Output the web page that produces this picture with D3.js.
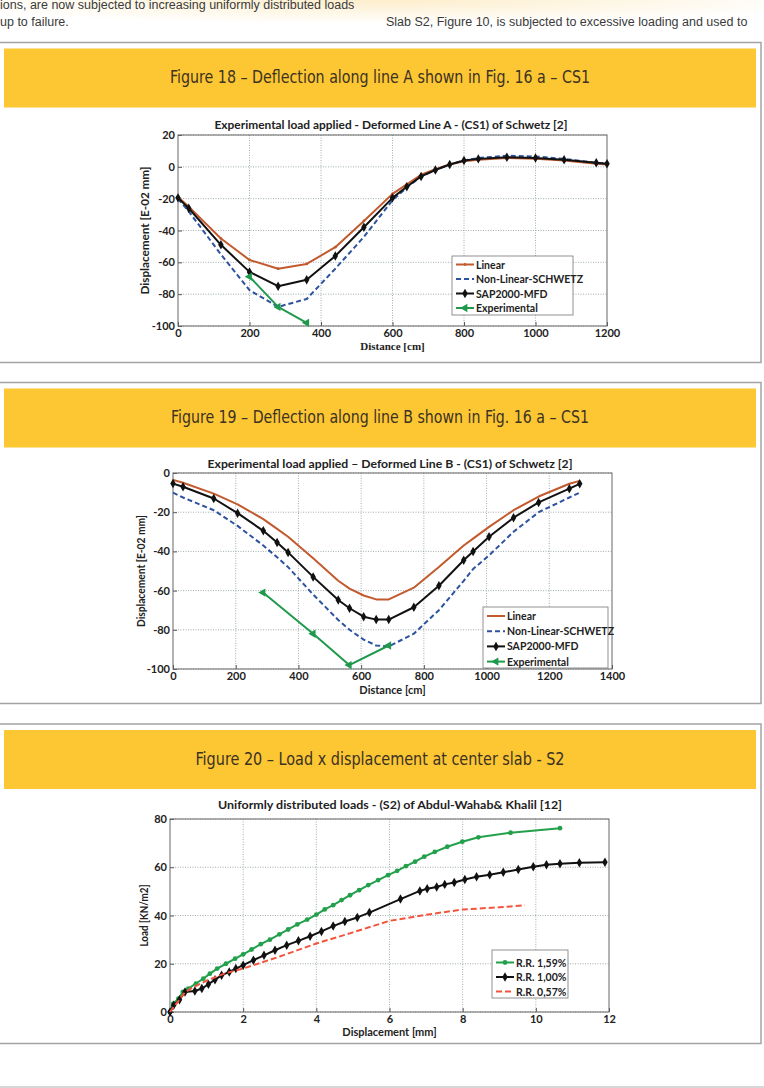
<!DOCTYPE html>
<html>
<head>
<meta charset="utf-8">
<script src="https://cdn.jsdelivr.net/npm/d3@7"></script>
<style>
  body { margin: 0; background: #fff; }
  svg { display: block; }
</style>
</head>
<body>
<div id="page"></div>
<script>
// ---- data: Figure 18 (line A) ----
const lineA_x = [0, 30, 120, 200, 280, 360, 440, 520, 600, 640, 680, 720, 760, 800, 840, 920, 1000, 1080, 1170, 1200];
const lineA_linear = [-19, -25, -45, -58.5, -64, -61, -50.5, -34, -17, -11, -5, -1.5, 1.5, 3.5, 4.5, 5.5, 5, 4, 2, 1.5];
const lineA_nonlinear = [-20, -28, -55, -77.5, -88, -83, -64, -44, -21, -13, -6, -2, 1.5, 4, 5.5, 7, 6.5, 5, 2.5, 2];
const lineA_sap = [-19.5, -26, -49, -66, -75, -71, -56, -38, -19.5, -12.5, -6, -2, 1.5, 4, 5, 6, 5.5, 4.5, 2.5, 2];
const lineA_exp_x = [200, 280, 360];
const lineA_exp = [-69, -88, -98];

// ---- data: Figure 19 (line B) ----
const lineB_x = [0, 32, 130, 206, 288, 332, 367, 447, 527, 563, 608, 648, 688, 768, 848, 927, 957, 1008, 1086, 1166, 1264, 1297];
const lineB_linear = [-3.5, -5, -10.5, -16, -23.5, -28.5, -32.5, -43.5, -55, -59, -62.5, -64.5, -64.5, -58.5, -48, -37, -33.5, -27.5, -19, -12, -5.5, -4];
const lineB_nonlinear = [-10, -12.5, -19, -27, -37, -43, -48, -62, -75, -80, -85, -88, -88.5, -82, -70, -55, -49, -42, -30, -20, -12.5, -10];
const lineB_sap = [-5.4, -7, -13, -20.5, -29.5, -35.5, -40.5, -53, -64.8, -69, -73.3, -74.8, -74.8, -68.5, -57.5, -44.5, -40, -32.5, -22.8, -15, -8, -5.5];
const lineB_exp_x = [287, 447, 562, 688];
const lineB_exp = [-61, -82, -98, -88];

// ---- data: Figure 20 (load x displacement, S2) ----
const rr159_x = [0, 0.09, 0.23, 0.35, 0.5, 0.71, 0.91, 1.09, 1.29, 1.53, 1.78, 2.0, 2.23, 2.48, 2.73, 2.99, 3.23, 3.48, 3.75, 4.0, 4.23, 4.46, 4.69, 4.92, 5.17, 5.42, 5.69, 5.96, 6.21, 6.45, 6.7, 6.95, 7.24, 7.58, 7.99, 8.43, 9.31, 10.66];
const rr159_y = [0, 3.5, 5.5, 8.3, 9.7, 11.8, 13.8, 15.9, 18, 20, 22.1, 23.9, 25.9, 28.1, 30, 32.2, 34.2, 36.3, 38.3, 40.4, 42.5, 44.3, 46.4, 48.4, 50.5, 52.6, 54.7, 56.7, 58.5, 60.5, 62.3, 64.4, 66.4, 68.5, 70.6, 72.4, 74.3, 76.2];
const rr100_x = [0, 0.1, 0.26, 0.41, 0.68, 0.87, 1.05, 1.23, 1.41, 1.62, 1.8, 2.0, 2.28, 2.57, 2.87, 3.19, 3.51, 3.83, 4.14, 4.46, 4.78, 5.12, 5.45, 6.3, 6.83, 7.03, 7.29, 7.51, 7.77, 8.06, 8.38, 8.74, 9.11, 9.52, 9.93, 10.29, 10.66, 11.19, 11.89];
const rr100_y = [0, 2.8, 5.1, 8.3, 8.7, 9.7, 11.5, 13.4, 15.2, 16.6, 18, 19.4, 21.5, 23.5, 25.6, 27.7, 29.5, 31.4, 33.4, 35.6, 37.5, 39.2, 41.2, 46.8, 50.2, 51.1, 51.8, 52.9, 53.7, 54.9, 56.1, 56.9, 57.9, 59.1, 60.2, 61, 61.5, 61.9, 62.1];
const rr057_x = [0, 0.2, 0.4, 0.6, 1, 1.5, 2, 3, 4, 5, 6, 7, 8, 9, 9.7];
const rr057_y = [0, 4, 8, 10, 13, 16, 18, 23, 28.4, 33, 37.8, 40.3, 42.5, 43.4, 44.2];

const xTicksA = [0, 200, 400, 600, 800, 1000, 1200];
const yTicksA = [20, 0, -20, -40, -60, -80, -100];
const xTicksB = [0, 200, 400, 600, 800, 1000, 1200, 1400];
const yTicksB = [0, -20, -40, -60, -80, -100];
const xTicksC = [0, 2, 4, 6, 8, 10, 12];
const yTicksC = [0, 20, 40, 60, 80];

const W = 764, H = 1088;
const chartFont = 'Lato, "Open Sans", sans-serif';

const svg = d3.select('#page').append('svg')
    .attr('width', W)
    .attr('height', H);

// soft cream glow at the top of the page
const defs = svg.append('defs');
const glow = defs.append('radialGradient').attr('id', 'glow')
    .attr('cx', '50%').attr('cy', '0%').attr('r', '60%');
glow.append('stop').attr('offset', '0%').attr('stop-color', '#fdeecb');
glow.append('stop').attr('offset', '100%').attr('stop-color', '#ffffff');
svg.append('rect').attr('x', 0).attr('y', 0).attr('width', W).attr('height', 40).attr('fill', 'url(#glow)');

// running text above the figures (first line is cut by the page top, as in the scan)
const bodyText = svg.append('g')
    .attr('font-family', '"Liberation Sans", Arial, sans-serif')
    .attr('font-size', 12.5)
    .attr('fill', '#3a3a3a');
bodyText.append('text').attr('x', 0).attr('y', 9).text('ions, are now subjected to increasing uniformly distributed loads');
bodyText.append('text').attr('x', 0).attr('y', 26).text('up to failure.');
bodyText.append('text').attr('x', 386).attr('y', 26).text('Slab S2, Figure 10, is subjected to excessive loading and used to');

svg.append('line').attr('x1', 0).attr('x2', W).attr('y1', 1087).attr('y2', 1087)
    .attr('stroke', '#b0b0b0').attr('stroke-width', 1.2);

// framed box with the yellow caption band
function drawFrame(top, bottom, caption, capWidth) {
    svg.append('rect')
        .attr('x', -2).attr('y', top)
        .attr('width', 763).attr('height', bottom - top)
        .attr('fill', '#fff')
        .attr('stroke', '#a3a3a3').attr('stroke-width', 1.5);
    svg.append('rect')
        .attr('x', 4).attr('y', top + 6)
        .attr('width', 752).attr('height', 59)
        .attr('fill', '#fdc633');
    svg.append('text')
        .attr('x', 380).attr('y', top + 40.5)
        .attr('text-anchor', 'middle')
        .attr('font-family', '"DejaVu Sans Condensed", "Liberation Sans Narrow", sans-serif')
        .attr('font-size', 17.5)
        .attr('fill', '#3b3223')
        .attr('textLength', capWidth)
        .attr('lengthAdjust', 'spacingAndGlyphs')
        .text(caption);
}

drawFrame(42.5, 362.5, 'Figure 18 – Deflection along line A shown in Fig. 16 a – CS1', 420);
drawFrame(382.5, 703.5, 'Figure 19 – Deflection along line B shown in Fig. 16 a – CS1', 418);
drawFrame(724, 1043.5, 'Figure 20 – Load x displacement at center slab - S2', 369);

// marker shapes
const diamond = d3.symbol().type(d3.symbolDiamond).size(26)();
const triangle = d3.symbol().type(d3.symbolTriangle).size(30)();

function markerPath(kind) {
    if (kind === 'diamond') return diamond;
    if (kind === 'tri') return triangle;
    if (kind === 'dot') return d3.symbol().type(d3.symbolCircle).size(18)();
    if (kind === 'small') return d3.symbol().type(d3.symbolCircle).size(6)();
    return null;
}

function drawPanel(p) {
    const x = d3.scaleLinear().domain(p.xDomain).range([p.left, p.right]);
    const y = d3.scaleLinear().domain(p.yDomain).range([p.bottom, p.top]);
    const g = svg.append('g');

    // dotted grid
    g.append('g').selectAll('line').data(p.xTicks.slice(1, -1)).join('line')
        .attr('x1', d => x(d)).attr('x2', d => x(d))
        .attr('y1', p.top).attr('y2', p.bottom)
        .attr('stroke', '#8a9a9a').attr('stroke-width', 0.8).attr('stroke-dasharray', '1,1.5');
    g.append('g').selectAll('line').data(p.yTicks).join('line')
        .attr('x1', p.left).attr('x2', p.right)
        .attr('y1', d => y(d)).attr('y2', d => y(d))
        .attr('stroke', '#8a9a9a').attr('stroke-width', 0.8).attr('stroke-dasharray', '1,1.5');

    // axes, inward ticks, plain hyphen minus like the original
    const fmt = d => String(d);
    const xa = g.append('g').attr('transform', `translate(0,${p.bottom})`)
        .call(d3.axisBottom(x).tickValues(p.xTicks).tickSize(-4).tickPadding(3).tickFormat(fmt));
    const ya = g.append('g').attr('transform', `translate(${p.left},0)`)
        .call(d3.axisLeft(y).tickValues(p.yTicks).tickSize(-4).tickPadding(3).tickFormat(fmt));
    [xa, ya].forEach(a => {
        a.select('.domain').remove();
        a.selectAll('line').attr('stroke', '#555');
        a.selectAll('text')
            .attr('font-family', chartFont)
            .attr('font-weight', 700)
            .attr('font-size', 11)
            .attr('fill', '#222');
    });

    g.append('rect')
        .attr('x', p.left).attr('y', p.top)
        .attr('width', p.right - p.left).attr('height', p.bottom - p.top)
        .attr('fill', 'none').attr('stroke', '#666').attr('stroke-width', 1);

    // series
    p.series.forEach(s => {
        const pts = s.x.map((v, i) => [x(v), y(s.y[i])]);
        g.append('path')
            .attr('d', d3.line()(pts))
            .attr('fill', 'none')
            .attr('stroke', s.color)
            .attr('stroke-width', s.width || 2)
            .attr('stroke-dasharray', s.dash || null)
            .attr('stroke-linejoin', 'round');
        if (s.marker) {
            g.append('g').selectAll('path').data(pts).join('path')
                .attr('d', markerPath(s.marker))
                .attr('transform', d => `translate(${d[0]},${d[1]})` + (s.marker === 'tri' ? ' rotate(-90)' : ''))
                .attr('fill', s.color);
        }
    });

    // titles
    g.append('text')
        .attr('x', p.titleX).attr('y', p.titleY)
        .attr('text-anchor', 'middle')
        .attr('font-family', chartFont).attr('font-weight', 700)
        .attr('font-size', 11.5).attr('fill', '#222')
        .attr('textLength', p.titleW).attr('lengthAdjust', 'spacingAndGlyphs')
        .text(p.title);
    g.append('text')
        .attr('x', (p.left + p.right) / 2).attr('y', p.xTitleY)
        .attr('text-anchor', 'middle')
        .attr('font-family', p.xTitleFont || chartFont).attr('font-weight', 700)
        .attr('font-size', 11).attr('fill', '#222')
        .text(p.xTitle);
    g.append('text')
        .attr('transform', `translate(${p.yTitleX},${(p.top + p.bottom) / 2}) rotate(-90)`)
        .attr('text-anchor', 'middle')
        .attr('font-family', chartFont).attr('font-weight', 700)
        .attr('font-size', 11.5).attr('fill', '#222')
        .attr('textLength', p.yTitleW).attr('lengthAdjust', 'spacingAndGlyphs')
        .text(p.yTitle);

    // legend
    const L = p.legend;
    const lg = g.append('g');
    lg.append('rect')
        .attr('x', L.x).attr('y', L.y).attr('width', L.w).attr('height', L.h)
        .attr('fill', '#fff').attr('stroke', '#777').attr('stroke-width', 0.8);
    p.series.forEach((s, i) => {
        const cy = L.y + L.first + i * L.step;
        lg.append('line')
            .attr('x1', L.x + 4).attr('x2', L.x + 22)
            .attr('y1', cy).attr('y2', cy)
            .attr('stroke', s.color).attr('stroke-width', s.width || 2)
            .attr('stroke-dasharray', s.dash || null);
        if (s.marker) {
            lg.append('path')
                .attr('d', markerPath(s.marker))
                .attr('transform', `translate(${L.x + 13},${cy})` + (s.marker === 'tri' ? ' rotate(-90)' : ''))
                .attr('fill', s.color);
        }
        lg.append('text')
            .attr('x', L.x + 24).attr('y', cy + 4)
            .attr('font-family', chartFont).attr('font-weight', 700)
            .attr('font-size', 10.5).attr('fill', '#222')
            .text(s.name);
    });
}

drawPanel({
    left: 178, right: 607, top: 135, bottom: 326,
    xDomain: [0, 1200], yDomain: [-100, 20],
    xTicks: xTicksA, yTicks: yTicksA,
    title: 'Experimental load applied - Deformed Line A - (CS1) of Schwetz [2]',
    titleX: 391, titleY: 129, titleW: 353,
    xTitle: 'Distance [cm]', xTitleY: 350, xTitleFont: '"Liberation Serif", serif',
    yTitle: 'Displacement [E-02 mm]', yTitleX: 149, yTitleW: 128,
    legend: { x: 452, y: 256, w: 121, h: 59, first: 8.5, step: 14.5 },
    series: [
        { name: 'Linear', x: lineA_x, y: lineA_linear, color: '#c25a2e', marker: 'small' },
        { name: 'Non-Linear-SCHWETZ', x: lineA_x, y: lineA_nonlinear, color: '#2d52a0', dash: '5,3' },
        { name: 'SAP2000-MFD', x: lineA_x, y: lineA_sap, color: '#111', marker: 'diamond' },
        { name: 'Experimental', x: lineA_exp_x, y: lineA_exp, color: '#1f9a4c', marker: 'tri' }
    ]
});

drawPanel({
    left: 173, right: 612, top: 473, bottom: 669,
    xDomain: [0, 1400], yDomain: [-100, 0],
    xTicks: xTicksB, yTicks: yTicksB,
    title: 'Experimental load applied – Deformed Line B - (CS1) of Schwetz [2]',
    titleX: 390, titleY: 468, titleW: 365,
    xTitle: 'Distance [cm]', xTitleY: 694,
    yTitle: 'Displacement [E-02 mm]', yTitleX: 145, yTitleW: 112,
    legend: { x: 483, y: 607, w: 125, h: 61, first: 9, step: 15.2 },
    series: [
        { name: 'Linear', x: lineB_x, y: lineB_linear, color: '#c25a2e' },
        { name: 'Non-Linear-SCHWETZ', x: lineB_x, y: lineB_nonlinear, color: '#2d52a0', dash: '5,3' },
        { name: 'SAP2000-MFD', x: lineB_x, y: lineB_sap, color: '#111', marker: 'diamond' },
        { name: 'Experimental', x: lineB_exp_x, y: lineB_exp, color: '#1f9a4c', marker: 'tri' }
    ]
});

drawPanel({
    left: 170, right: 609, top: 819, bottom: 1012,
    xDomain: [0, 12], yDomain: [0, 80],
    xTicks: xTicksC, yTicks: yTicksC,
    title: 'Uniformly distributed loads - (S2) of Abdul-Wahab& Khalil [12]',
    titleX: 390, titleY: 809, titleW: 344,
    xTitle: 'Displacement [mm]', xTitleY: 1036,
    yTitle: 'Load [KN/m2]', yTitleX: 148, yTitleW: 62,
    legend: { x: 492, y: 950, w: 76, h: 48, first: 12.5, step: 14.5 },
    series: [
        { name: 'R.R. 1,59%', x: rr159_x, y: rr159_y, color: '#22a04c', marker: 'dot' },
        { name: 'R.R. 1,00%', x: rr100_x, y: rr100_y, color: '#111', marker: 'diamond' },
        { name: 'R.R. 0,57%', x: rr057_x, y: rr057_y, color: '#f4533c', dash: '6,3' }
    ]
});
</script>
</body>
</html>
